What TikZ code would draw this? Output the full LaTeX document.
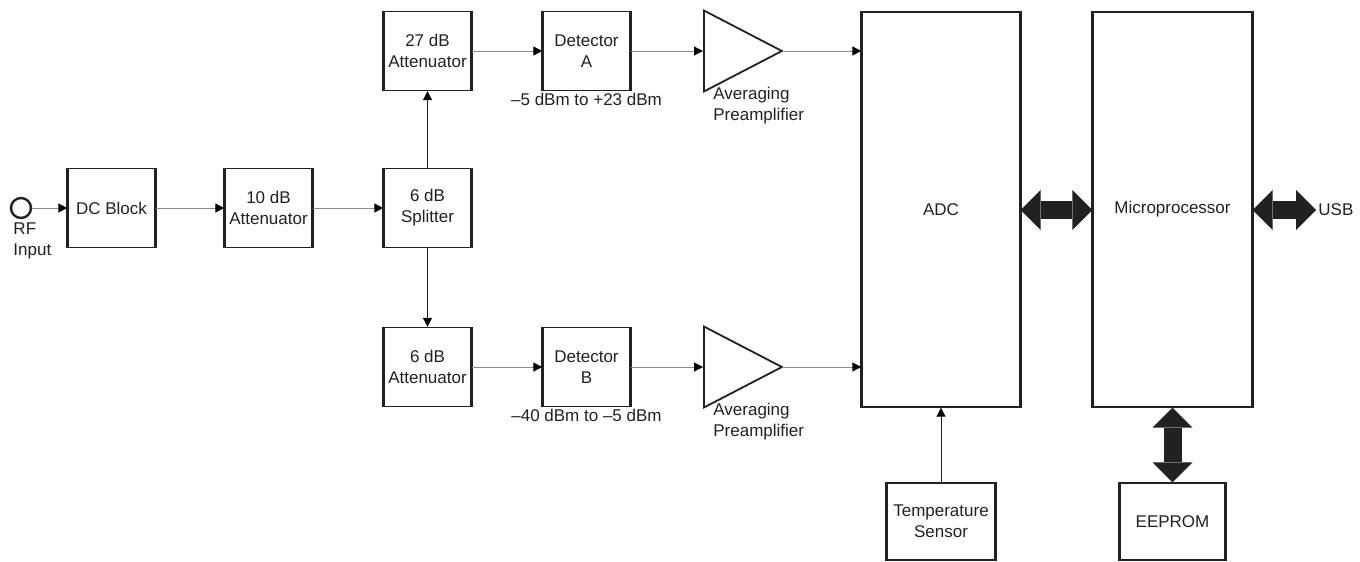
\documentclass[tikz,border=0pt]{standalone}
\usepackage{fontspec}
\setmainfont{Liberation Sans}
\usetikzlibrary{arrows.meta,shapes.geometric}
\definecolor{wiregray}{rgb}{0.55,0.55,0.55}
\definecolor{inkgray}{rgb}{0.13,0.13,0.13}

\begin{document}
\begin{tikzpicture}[x=0.5pt,y=-0.5pt,
    every node/.style={font=\fontsize{8.5}{10.5}\selectfont,text=inkgray},
    blk/.style={rectangle,draw=inkgray,line width=0.7pt,minimum width=43.5pt,
      minimum height=39.5pt,inner sep=0pt,align=center},
    amp/.style={isosceles triangle,isosceles triangle stretches,draw=inkgray,
      line width=0.9pt,minimum width=40.5pt,minimum height=39pt,inner sep=0pt,
      anchor=lower side},
    wire/.style={draw=wiregray,line width=0.5pt,
      -{Triangle[length=4.5pt,width=4.5pt,color=black]}},
    bus/.style={draw=inkgray,line width=9pt,
      {Triangle[length=10pt,width=20pt,line width=0pt]}-{Triangle[length=10pt,width=20pt,line width=0pt]}}]
\useasboundingbox (0,0) rectangle (1360,562);

% input side
\node[circle,draw=inkgray,line width=1.2pt,minimum size=10pt,inner sep=0pt] (rf) at (21,208) {};
\node[anchor=north west,align=left,inner sep=0pt] (rflbl) at ([yshift=-3pt]rf.south west) {RF\\Input};
\node[blk] (dc) at (111.5,208) {DC Block};
\node[blk] (att10) at (268.5,208) {10 dB\\Attenuator};
\node[blk] (split) at (427.5,208) {6 dB\\Splitter};

% upper path
\node[blk] (att27) at (427.5,51) {27 dB\\Attenuator};
\node[blk] (detA) at (586.5,51) {Detector\\A};
\node[anchor=north,inner sep=1pt] (rngA) at (detA.south) {–5 dBm to +23 dBm};
\node[amp] (ampA) at (703,51) {};
\node[anchor=north west,align=left,inner sep=0pt] (lblA) at ([xshift=5pt,yshift=-18pt]ampA.lower side) {Averaging\\Preamplifier};

% lower path
\node[blk] (att6) at (427.5,367) {6 dB\\Attenuator};
\node[blk] (detB) at (586.5,367) {Detector\\B};
\node[anchor=north,inner sep=1pt] (rngB) at (detB.south) {–40 dBm to –5 dBm};
\node[amp] (ampB) at (703,367) {};
\node[anchor=north west,align=left,inner sep=0pt] (lblB) at ([xshift=5pt,yshift=-18pt]ampB.lower side) {Averaging\\Preamplifier};

% converter and control
\node[blk,minimum width=79pt,minimum height=197.5pt] (adc) at (941,209.5) {ADC};
\node[blk,minimum width=79.5pt,minimum height=197.5pt] (mp) at (1172.5,209.5) {Microprocessor};
\node[blk,minimum width=54pt,minimum height=38.5pt] (temp) at (941,521.5) {Temperature\\Sensor};
\node[blk,minimum width=52.5pt,minimum height=38.5pt] (eeprom) at (1172.5,521.5) {EEPROM};
\node[anchor=west,inner sep=1pt] (usb) at (1316,210) {USB};

% heavy side edges
\foreach \n in {dc,att10,split,att27,detA,att6,detB,adc,mp,temp,eeprom}
  \draw[inkgray,line width=1.5pt] (\n.north west) -- (\n.south west) (\n.north east) -- (\n.south east);

\draw[wire] (rf) -- (dc);
\draw[wire] (dc) -- (att10);
\draw[wire] (att10) -- (split);
\draw[wire,draw=inkgray] (split) -- (att27);
\draw[wire,draw=inkgray] (split) -- (att6);
\draw[wire] (att27) -- (detA);
\draw[wire] (detA) -- (ampA.lower side);
\draw[wire] (ampA.apex) -- (ampA.apex -| adc.west);
\draw[wire] (att6) -- (detB);
\draw[wire] (detB) -- (ampB.lower side);
\draw[wire] (ampB.apex) -- (ampB.apex -| adc.west);
\draw[wire,draw=inkgray] (temp) -- (adc);

\draw[bus] (adc.east |- usb.west) -- (mp.west |- usb.west);
\draw[bus] (mp.east |- usb.west) -- (usb.west);
\draw[bus] (mp) -- (eeprom);

\end{tikzpicture}
\end{document}
